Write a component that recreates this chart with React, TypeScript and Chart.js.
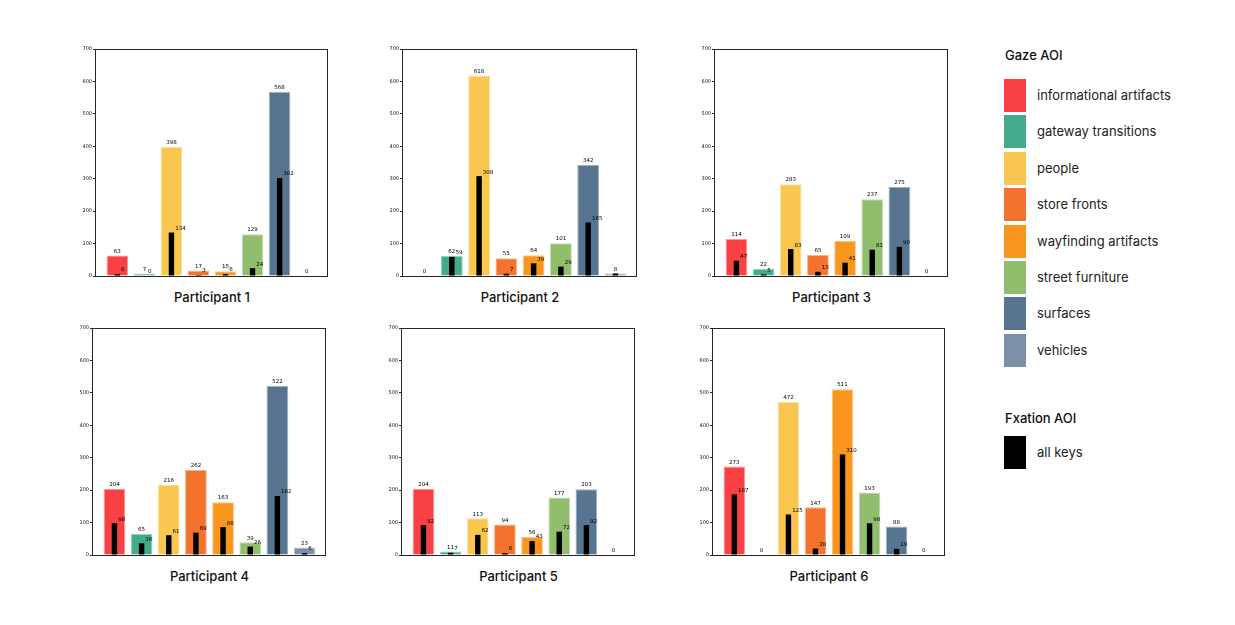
import React, { useEffect, useRef } from 'react';
import { Chart, registerables } from 'chart.js';

Chart.register(...registerables);

// ---------- DATA ----------
const CATEGORIES = [
  'informational artifacts',
  'gateway transitions',
  'people',
  'store fronts',
  'wayfinding artifacts',
  'street furniture',
  'surfaces',
  'vehicles',
];

const CATEGORY_COLORS = ['#F94144', '#43AA8B', '#F9C74F', '#F3722C', '#F8961E', '#90BE6D', '#577590', '#7A90A7'];
const CATEGORY_EDGES = ['#FB9A9C', '#9BD0C0', '#FBE0A3', '#F8B490', '#FBC68A', '#C4DBB2', '#9DB0C2', '#B5C2D0'];

const FIXATION_LABEL = 'all keys';
const FIXATION_COLOR = '#000000';

const GAZE_P1 = [63, 7, 398, 17, 15, 129, 568, 0];
const FIX_P1 = [6, 0, 134, 3, 6, 24, 302, null];
const GAZE_P2 = [0, 62, 618, 55, 64, 101, 342, 8];
const FIX_P2 = [null, 59, 308, 7, 39, 29, 165, 8];
const GAZE_P3 = [114, 22, 283, 65, 109, 237, 275, 0];
const FIX_P3 = [47, 5, 83, 13, 41, 81, 90, null];
const GAZE_P4 = [204, 65, 216, 262, 163, 39, 522, 23];
const FIX_P4 = [98, 36, 61, 69, 86, 26, 182, 6];
const GAZE_P5 = [204, 11, 113, 94, 56, 177, 203, 0];
const FIX_P5 = [92, 7, 62, 6, 43, 72, 92, null];
const GAZE_P6 = [273, 0, 472, 147, 511, 193, 88, 0];
const FIX_P6 = [187, null, 125, 20, 310, 98, 19, null];

const PANEL_TITLES = ['Participant 1', 'Participant 2', 'Participant 3', 'Participant 4', 'Participant 5', 'Participant 6'];
const GAZE_SERIES = [GAZE_P1, GAZE_P2, GAZE_P3, GAZE_P4, GAZE_P5, GAZE_P6];
const FIX_SERIES = [FIX_P1, FIX_P2, FIX_P3, FIX_P4, FIX_P5, FIX_P6];

const Y_MIN = 0;
const Y_MAX = 700;
const Y_STEP = 100;

// ---------- LAYOUT (plot-area boxes in page pixels) ----------
const PLOT_BOXES = [
  { l: 96, t: 49, r: 328, b: 276 },
  { l: 403, t: 49, r: 637, b: 276 },
  { l: 715, t: 49, r: 948, b: 276 },
  { l: 93, t: 328, r: 326, b: 555 },
  { l: 402, t: 328, r: 635, b: 555 },
  { l: 713, t: 328, r: 945, b: 555 },
];
const AXIS_W = 35;
const PAD_T = 10;
const PAD_R = 6;
const PAD_B = 8;
const X_MARGIN = 0.79;

const labelPlugin = {
  id: 'frameAndLabels',
  afterDatasetsDraw(chart: any) {
    const ctx = chart.ctx;
    const { left, top, right, bottom } = chart.chartArea;
    ctx.save();
    ctx.strokeStyle = '#262626';
    ctx.lineWidth = 1;
    ctx.strokeRect(Math.round(left) - 0.5, Math.round(top) + 0.5, Math.round(right - left), Math.round(bottom - top));

    ctx.fillStyle = '#000';
    ctx.font = '5.5px "DejaVu Sans"';
    const gazeMeta = chart.getDatasetMeta(0);
    const fixMeta = chart.getDatasetMeta(1);
    const gaze = chart.data.datasets[0].data;
    const fix = chart.data.datasets[1].data;
    gazeMeta.data.forEach((bar: any, i: number) => {
      const v = gaze[i].y;
      if (v === null || v === undefined) return;
      ctx.textAlign = 'center';
      ctx.textBaseline = 'bottom';
      ctx.fillText(String(v), bar.x, bar.y - 1.5);
    });
    fixMeta.data.forEach((bar: any, i: number) => {
      const v = fix[i].y;
      if (v === null || v === undefined) return;
      if (v === gaze[i].y) return;
      ctx.textAlign = 'left';
      ctx.textBaseline = 'middle';
      ctx.fillText(String(v), bar.x + bar.width / 2 + 1, bar.y - 4);
    });
    ctx.restore();
  },
};

function Panel({ idx }: { idx: number }) {
  const ref = useRef<HTMLCanvasElement>(null);
  const box = PLOT_BOXES[idx];
  const width = box.r - box.l + AXIS_W + PAD_R;
  const height = box.b - box.t + PAD_T + PAD_B;

  useEffect(() => {
    if (!ref.current) return;
    const gaze = GAZE_SERIES[idx];
    const fix = FIX_SERIES[idx];
    const chart = new Chart(ref.current, {
      type: 'bar',
      data: {
        datasets: [
          {
            label: 'Gaze AOI',
            data: gaze.map((v, i) => ({ x: i, y: v })),
            backgroundColor: CATEGORY_COLORS,
            borderColor: CATEGORY_EDGES,
            borderWidth: 1,
            grouped: false,
            categoryPercentage: 1,
            barPercentage: 0.8,
            order: 2,
          } as any,
          {
            label: FIXATION_LABEL,
            data: fix.map((v, i) => ({ x: i, y: v })),
            backgroundColor: FIXATION_COLOR,
            borderWidth: 0,
            grouped: false,
            categoryPercentage: 1,
            barPercentage: 0.2,
            order: 1,
          } as any,
        ],
      },
      options: {
        responsive: false,
        maintainAspectRatio: false,
        animation: false,
        devicePixelRatio: 1,
        layout: { padding: { top: PAD_T, right: PAD_R, bottom: PAD_B, left: 0 } },
        plugins: { legend: { display: false }, tooltip: { enabled: false }, title: { display: false } },
        scales: {
          x: {
            type: 'linear',
            min: -X_MARGIN,
            max: CATEGORIES.length - 1 + X_MARGIN,
            offset: false,
            display: false,
            grid: { offset: false },
            ticks: { stepSize: 1, includeBounds: false },
          },
          y: {
            type: 'linear',
            min: Y_MIN,
            max: Y_MAX,
            afterFit: (s: any) => {
              s.width = AXIS_W;
            },
            border: { display: false },
            grid: { drawOnChartArea: false, drawTicks: true, tickLength: 3, color: '#262626', lineWidth: 1 },
            ticks: {
              stepSize: Y_STEP,
              padding: 1,
              color: '#111',
              font: { family: 'DejaVu Sans', size: 5 },
            },
          },
        },
      } as any,
      plugins: [labelPlugin],
    });
    return () => chart.destroy();
  }, [idx]);

  return (
    <>
      <canvas
        ref={ref}
        width={width}
        height={height}
        style={{ position: 'absolute', left: box.l - AXIS_W, top: box.t - PAD_T, width, height }}
      />
      <div
        style={{
          position: 'absolute',
          left: (box.l + box.r) / 2 - 100,
          width: 200,
          top: box.b + 13,
          textAlign: 'center',
          fontFamily: 'Inter, "Noto Sans", sans-serif',
          fontSize: 13,
          fontWeight: 500,
          color: '#111',
          lineHeight: '16px',
        }}
      >
        {PANEL_TITLES[idx]}
      </div>
    </>
  );
}

function Legend() {
  const font = 'Inter, "Noto Sans", sans-serif';
  return (
    <>
      <div style={{ position: 'absolute', left: 1005, top: 47, fontFamily: font, fontSize: 13, fontWeight: 500, color: '#111', lineHeight: '17px' }}>
        Gaze AOI
      </div>
      {CATEGORIES.map((c, i) => (
        <React.Fragment key={c}>
          <div style={{ position: 'absolute', left: 1004, top: 79 + i * 36.4, width: 22, height: 33, background: CATEGORY_COLORS[i] }} />
          <div style={{ position: 'absolute', left: 1037, top: 79 + i * 36.4 + 8, fontFamily: font, fontSize: 13, color: '#222', lineHeight: '17px', whiteSpace: 'nowrap' }}>
            {c}
          </div>
        </React.Fragment>
      ))}
      <div style={{ position: 'absolute', left: 1005, top: 410, fontFamily: font, fontSize: 13, fontWeight: 500, color: '#111', lineHeight: '17px' }}>
        Fxation AOI
      </div>
      <div style={{ position: 'absolute', left: 1004, top: 436, width: 22, height: 33, background: FIXATION_COLOR }} />
      <div style={{ position: 'absolute', left: 1037, top: 444, fontFamily: font, fontSize: 13, color: '#222', lineHeight: '17px' }}>
        {FIXATION_LABEL}
      </div>
    </>
  );
}

export default function App() {
  return (
    <div style={{ position: 'absolute', left: 0, top: 0, width: 1235, height: 625, background: '#fff', overflow: 'hidden' }}>
      {PANEL_TITLES.map((_, i) => (
        <Panel key={i} idx={i} />
      ))}
      <Legend />
    </div>
  );
}
